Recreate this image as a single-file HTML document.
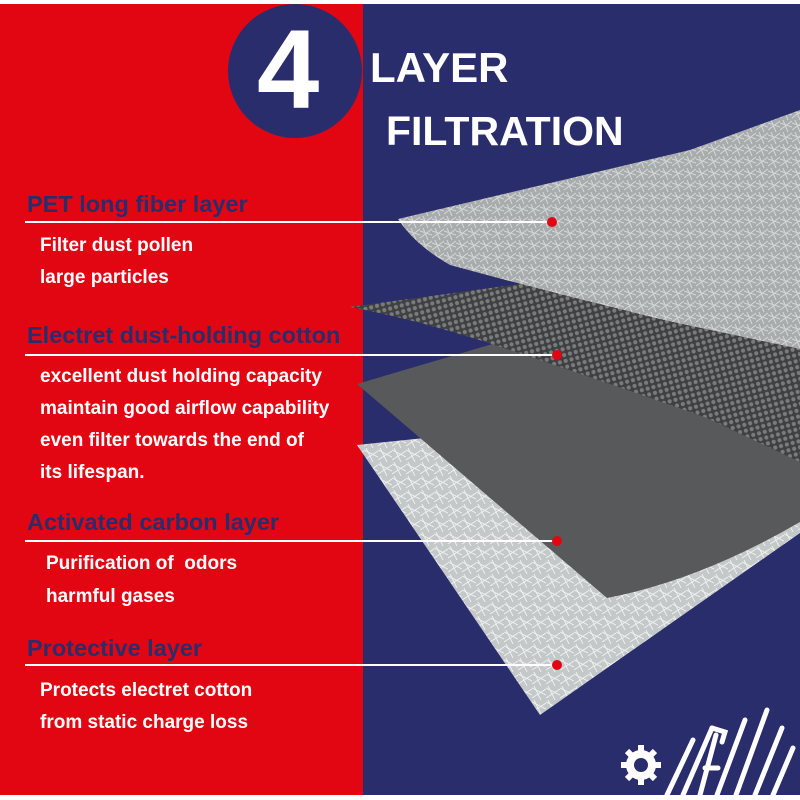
<!DOCTYPE html>
<html><head><meta charset="utf-8"><style>
html,body{margin:0;padding:0;background:#fff}
#c{position:relative;width:800px;height:800px;overflow:hidden;background:#fff;font-family:"Liberation Sans",sans-serif}
.t{position:absolute;left:27px;color:#2a2d6c;font-weight:bold;font-size:23.5px;white-space:nowrap}
.b{position:absolute;color:#fff;font-weight:bold;font-size:19px;white-space:nowrap}
</style></head><body><div id="c">
<svg width="800" height="800" style="position:absolute;left:0;top:0">
<defs>
<pattern id="dots" width="6" height="6" patternUnits="userSpaceOnUse" patternTransform="rotate(-15)">
<rect width="6" height="6" fill="#3f4042"/><circle cx="3" cy="3" r="2.1" fill="#7a7b7d"/></pattern>
<pattern id="fib" width="12" height="12" patternUnits="userSpaceOnUse">
<rect width="12" height="12" fill="#a9acad"/><path d="M0 3L12 7M3 0L8 12M0 10L12 1" stroke="#d6d8d8" stroke-width="1"/></pattern>
<pattern id="fib2" width="14" height="14" patternUnits="userSpaceOnUse">
<rect width="14" height="14" fill="#c4c8c8"/><path d="M0 2L14 9M2 0L9 14M0 12L14 3" stroke="#eef0f0" stroke-width="1"/></pattern>
</defs>
<rect x="0" y="4" width="363" height="791" fill="#e20613"/>
<rect x="363" y="4" width="437" height="791" fill="#2a2d6c"/>
<circle cx="295" cy="71" r="67" fill="#2a2d6c"/>
<polygon points="357,445 540,715 800,533 800,470 600,420" fill="url(#fib2)"/>
<path d="M357,384 L540,330 L800,380 L800,522 Q700,580 607,598 Z" fill="#58595b"/>
<path d="M350,307 L520,284 L800,250 L800,462 L707,418 Q600,380 507,349 Q420,320 350,307 Z" fill="url(#dots)"/>
<path d="M398,219 L690,150 L800,110 L800,349 L673,322 Q560,295 450,265 Q415,245 398,219 Z" fill="url(#fib)"/>
<g stroke="#fff" stroke-width="2">
<line x1="25" y1="222" x2="552" y2="222"/><line x1="25" y1="355" x2="557" y2="355"/>
<line x1="25" y1="541" x2="557" y2="541"/><line x1="25" y1="665" x2="557" y2="665"/></g>
<g fill="#e20613"><circle cx="552" cy="222" r="5"/><circle cx="557" cy="355" r="5"/><circle cx="557" cy="541" r="5"/><circle cx="557" cy="665" r="5"/></g>
<g fill="#fff"><circle cx="641" cy="765" r="15"/><g stroke="#fff" stroke-width="6">
<line x1="641" y1="745" x2="641" y2="785"/><line x1="621" y1="765" x2="661" y2="765"/>
<line x1="627" y1="751" x2="655" y2="779"/><line x1="655" y1="751" x2="627" y2="779"/></g>
<circle cx="641" cy="765" r="7" fill="#2a2d6c"/></g>
<g stroke="#fff" stroke-width="5" stroke-linecap="round" fill="none">
<line x1="667" y1="795" x2="693" y2="740"/><line x1="683" y1="795" x2="712" y2="728"/>
<line x1="700" y1="795" x2="716" y2="735"/><path d="M712 728 L725 732 L722 742"/><line x1="705" y1="768" x2="718" y2="768"/>
<line x1="717" y1="795" x2="745" y2="720"/><line x1="736" y1="795" x2="767" y2="710"/>
<line x1="755" y1="795" x2="782" y2="728"/><line x1="773" y1="795" x2="793" y2="748"/></g>
</svg>
<div style="position:absolute;left:257px;top:10px;color:#fff;font-weight:bold;font-size:112px;line-height:120px">4</div>
<div style="position:absolute;left:370px;top:44px;color:#fff;font-weight:bold;font-size:42px">LAYER</div>
<div style="position:absolute;left:386px;top:108px;color:#fff;font-weight:bold;font-size:41px">FILTRATION</div>
<div class="t" style="top:191px">PET long fiber layer</div>
<div class="b" style="left:40px;top:235px">Filter dust pollen</div>
<div class="b" style="left:40px;top:267px">large particles</div>
<div class="t" style="top:322px">Electret dust-holding cotton</div>
<div class="b" style="left:40px;top:366px">excellent dust holding capacity</div>
<div class="b" style="left:40px;top:398px">maintain good airflow capability</div>
<div class="b" style="left:40px;top:430px">even filter towards the end of</div>
<div class="b" style="left:40px;top:462px">its lifespan.</div>
<div class="t" style="top:509px">Activated carbon layer</div>
<div class="b" style="left:46px;top:553px">Purification of &nbsp;odors</div>
<div class="b" style="left:46px;top:586px">harmful gases</div>
<div class="t" style="top:635px">Protective layer</div>
<div class="b" style="left:40px;top:680px">Protects electret cotton</div>
<div class="b" style="left:40px;top:712px">from static charge loss</div>
</div></body></html>
